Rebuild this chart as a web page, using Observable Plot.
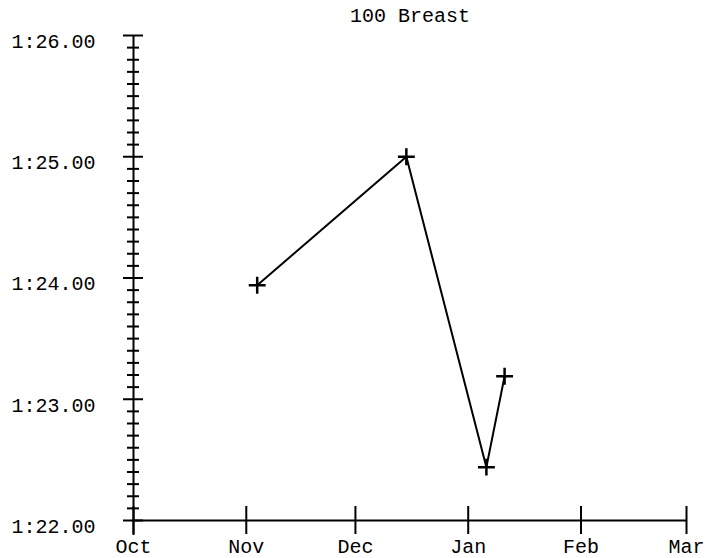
<!DOCTYPE html>
<html><head><meta charset="utf-8">
<script src="https://cdn.jsdelivr.net/npm/d3@7"></script>
<script src="https://cdn.jsdelivr.net/npm/@observablehq/plot@0.6"></script>
<style>body{margin:0;background:#fff}</style>
</head><body><div id="chart"></div>
<script>
const chartTitle = "100 Breast";
const swimDates = ["2023-11-04", "2023-12-15", "2024-01-06", "2024-01-11"];
const swimSeconds = [83.94, 85.00, 82.44, 83.19];
const monthTickDates = ["2023-10-01", "2023-11-01", "2023-12-01", "2024-01-01", "2024-02-01", "2024-03-01"];
const monthLabels = ["Oct", "Nov", "Dec", "Jan", "Feb", "Mar"];
const majorSeconds = [82, 83, 84, 85, 86];
const majorLabels = ["1:22.00", "1:23.00", "1:24.00", "1:25.00", "1:26.00"];
const minorSeconds = d3.range(820, 861).filter(i => i % 10 !== 0).map(i => i / 10);

const parse = d3.utcParse("%Y-%m-%d");
const data = swimDates.map((d, i) => ({date: parse(d), sec: swimSeconds[i]}));
const months = monthTickDates.map((d, i) => ({date: parse(d), label: monthLabels[i]}));
const majors = majorSeconds.map((s, i) => ({sec: s, label: majorLabels[i]}));
const xStart = months[0].date, xEnd = months[months.length - 1].date;
const yMin = majorSeconds[0], yMax = majorSeconds[majorSeconds.length - 1];
const font = "Liberation Mono";

const chart = Plot.plot({
  width: 706, height: 558,
  marginLeft: 133, marginRight: 20, marginTop: 35, marginBottom: 38,
  style: {fontFamily: font, fontSize: "20px", background: "#fff", color: "#000"},
  x: {type: "utc", domain: [xStart, xEnd], axis: null},
  y: {domain: [yMin, yMax], axis: null},
  marks: [
    Plot.ruleY([yMin], {y: d => d, x1: () => xStart, x2: () => xEnd, stroke: "#000", strokeWidth: 2}),
    Plot.ruleX([xStart], {x: d => d, y1: () => yMax, y2: () => yMin, insetBottom: -15, stroke: "#000", strokeWidth: 2}),
    Plot.ruleX(months, {x: "date", y1: () => yMin, y2: () => yMin, insetTop: -14, insetBottom: -14, stroke: "#000", strokeWidth: 2}),
    Plot.ruleY(majors, {y: "sec", x1: () => xStart, x2: () => xStart, insetLeft: -10, insetRight: -10, stroke: "#000", strokeWidth: 2}),
    Plot.ruleY(minorSeconds, {y: d => d, x1: () => xStart, x2: () => xStart, insetLeft: -6, insetRight: -6, stroke: "#000", strokeWidth: 2}),
    Plot.text(majors, {y: "sec", text: "label", frameAnchor: "left", dx: -38, dy: 6, textAnchor: "end", lineAnchor: "middle", fontSize: 20, fill: "#000"}),
    Plot.text(months, {x: "date", text: "label", frameAnchor: "bottom", dy: 26, lineAnchor: "middle", fontSize: 20, fill: "#000"}),
    Plot.text([chartTitle], {text: d => d, frameAnchor: "top", dy: -20, lineAnchor: "middle", fontSize: 20, fill: "#000"}),
    Plot.line(data, {x: "date", y: "sec", stroke: "#000", strokeWidth: 2}),
    Plot.dot(data, {x: "date", y: "sec", symbol: "plus", r: 5.5, stroke: "#000", strokeWidth: 2.5})
  ]
});
document.getElementById("chart").append(chart);
</script>
</body></html>
